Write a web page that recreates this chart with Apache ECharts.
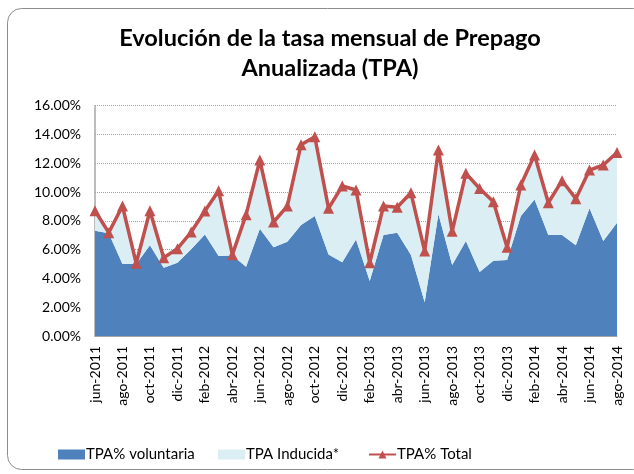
<!DOCTYPE html>
<html>
<head>
<meta charset="utf-8">
<script src="https://cdn.jsdelivr.net/npm/echarts@6/dist/echarts.min.js"></script>
<style>
html,body{margin:0;padding:0;background:#fff;}
#main{width:634px;height:474px;}
</style>
</head>
<body>
<div id="main"></div>
<script>
var meses = ['jun-2011','jul-2011','ago-2011','sep-2011','oct-2011','nov-2011','dic-2011',
	'ene-2012','feb-2012','mar-2012','abr-2012','may-2012','jun-2012','jul-2012','ago-2012','sep-2012','oct-2012','nov-2012','dic-2012',
	'ene-2013','feb-2013','mar-2013','abr-2013','may-2013','jun-2013','jul-2013','ago-2013','sep-2013','oct-2013','nov-2013','dic-2013',
	'ene-2014','feb-2014','mar-2014','abr-2014','may-2014','jun-2014','jul-2014','ago-2014'];

// TPA% voluntaria
var voluntaria = [7.32,7.13,5.00,5.00,6.30,4.74,5.09,6.02,7.06,5.56,5.60,4.81,7.45,6.16,6.55,7.71,8.33,5.67,5.12,
	6.71,3.82,7.01,7.18,5.63,2.34,8.47,4.93,6.60,4.44,5.23,5.28,8.33,9.49,7.01,7.01,6.30,8.87,6.60,7.87];

// TPA% Total
var total = [8.70,7.18,9.03,5.05,8.70,5.44,6.07,7.22,8.68,10.09,5.65,8.43,12.22,7.92,9.03,13.29,13.84,8.87,10.42,
	10.14,5.09,9.03,8.94,9.95,5.90,12.92,7.27,11.30,10.25,9.33,6.16,10.49,12.57,9.26,10.79,9.54,11.53,11.88,12.75];

// TPA Inducida* = diferencia entre total y voluntaria
var inducida = [];
for (var i = 0; i < total.length; i++) {
	inducida.push(Math.max(0, +(total[i] - voluntaria[i]).toFixed(2)));
}

var fuente = 'Lato, "Open Sans", sans-serif';

function leyenda(nombre, izq, icono){
	var l = {
		left:izq,
		top:442,
		itemWidth:27,
		itemHeight:10,
		textStyle:{color:'#000',fontSize:15,fontFamily:fuente,padding:[0,0,0,-4]},
		data:[{name:nombre}]
	};
	if (icono) l.data[0].icon = icono;
	return l;
}

var chart = echarts.init(document.getElementById('main'));
var option = {
	animation:false,
	title:{
		text:'Evolución de la tasa mensual de Prepago\nAnualizada (TPA)',
		left:325,
		textAlign:'center',
		top:18,
		textStyle:{
			color:'#000',
			fontSize:23.5,
			fontWeight:'bold',
			fontFamily:fuente,
			lineHeight:30
		}
	},
	graphic:[{
		type:'rect',
		shape:{x:7.5,y:8.5,width:640,height:461,r:14},
		style:{fill:'none',stroke:'#8c8c8c',lineWidth:1},
		silent:true,
		z:-10
	}],
	legend:[
		leyenda('TPA% voluntaria', 53, 'rect'),
		leyenda('TPA Inducida*', 213, 'rect'),
		leyenda('TPA% Total', 363)
	],
	grid:{
		left:95,
		right:17,
		top:105.7,
		bottom:138,
		containLabel:false
	},
	xAxis:{
		type:'category',
		boundaryGap:false,
		data:meses,
		axisLine:{lineStyle:{color:'#a6a6a6',width:1}},
		axisTick:{show:false},
		axisLabel:{
			interval:1,
			rotate:90,
			color:'#000',
			fontSize:14,
			fontFamily:fuente,
			margin:10
		},
		splitLine:{show:false}
	},
	yAxis:{
		type:'value',
		min:0,
		max:16,
		interval:2,
		axisLine:{show:true,lineStyle:{color:'#a6a6a6',width:1.5}},
		axisTick:{show:false},
		axisLabel:{
			color:'#000',
			fontSize:14,
			fontFamily:fuente,
			margin:14,
			formatter:function(v){return v.toFixed(2)+'%';}
		},
		splitLine:{lineStyle:{color:'#a0a0a0',type:'dotted',width:1}}
	},
	series:[
		{
			name:'TPA% voluntaria',
			type:'line',
			stack:'tpa',
			symbol:'none',
			lineStyle:{width:0},
			itemStyle:{color:'#4f81bd'},
			areaStyle:{color:'#4f81bd',opacity:1},
			data:voluntaria,
			z:1
		},
		{
			name:'TPA Inducida*',
			type:'line',
			stack:'tpa',
			symbol:'none',
			lineStyle:{width:0},
			itemStyle:{color:'#daeef3'},
			areaStyle:{color:'#daeef3',opacity:1},
			data:inducida,
			z:1
		},
		{
			name:'TPA% Total',
			type:'line',
			symbol:'triangle',
			symbolSize:11,
			showAllSymbol:true,
			lineStyle:{color:'#c0504d',width:3.5},
			itemStyle:{color:'#c0504d'},
			data:total,
			z:3
		}
	]
};
chart.setOption(option);
</script>
</body>
</html>
